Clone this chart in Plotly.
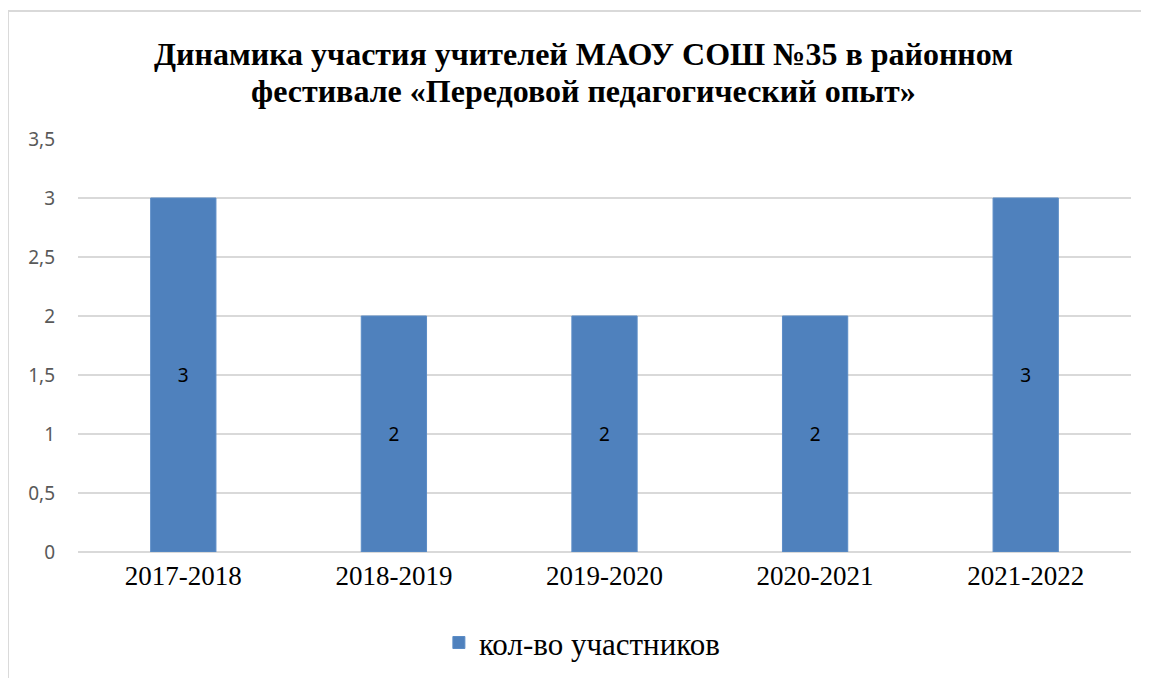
import plotly.graph_objects as go

categories = ["2017-2018", "2018-2019", "2019-2020", "2020-2021", "2021-2022"]
values = [3, 2, 2, 2, 3]
series_name = "кол-во участников"
title_lines = ["Динамика участия учителей МАОУ СОШ №35 в районном",
               "фестивале «Передовой педагогический опыт»"]

fig = go.Figure()
fig.add_trace(go.Bar(
    x=categories, y=values, name=series_name,
    marker=dict(color="#4F81BD", line=dict(color="#5B8CC6", width=1)),
    text=[str(v) for v in values], textposition="inside", insidetextanchor="middle",
    textfont=dict(family="Noto Sans, sans-serif", size=19, color="#000000"),
    showlegend=True,
))

title_font = dict(family="Liberation Serif, serif", size=32, color="#000000", weight="bold")
annotations = [
    dict(text=title_lines[0], xref="paper", yref="paper", x=0.4805, y=1.207,
         xanchor="center", yanchor="middle", showarrow=False, font=title_font),
    dict(text=title_lines[1], xref="paper", yref="paper", x=0.4805, y=1.116,
         xanchor="center", yanchor="middle", showarrow=False, font=title_font),
]

border = dict(color="#D9D9D9", width=2)
fig.update_layout(
    width=1149, height=678,
    paper_bgcolor="white", plot_bgcolor="white",
    separators=", ",
    margin=dict(l=70, r=26, t=131, b=134),
    bargap=0.69,
    annotations=annotations,
    xaxis=dict(tickfont=dict(family="Liberation Serif, serif", size=27, color="#000000"),
               showline=False, ticks="", ticklabelstandoff=5),
    yaxis=dict(range=[0, 3.5], dtick=0.5, tickformat=",.1~f",
               tickfont=dict(family="Noto Sans, sans-serif", size=19, color="#595959"),
               showgrid=True, gridcolor="#D9D9D9", gridwidth=2,
               zeroline=True, zerolinecolor="#D9D9D9", zerolinewidth=2,
               ticks="", ticklabelstandoff=22),
    legend=dict(orientation="h", x=0.479, xanchor="center", y=-0.22, yanchor="middle",
                font=dict(family="Liberation Serif, serif", size=31, color="#000000")),
    shapes=[
        dict(type="line", xref="paper", yref="paper", x0=-0.0665, x1=1.4, y0=1.31, y1=1.31,
             line=border, layer="below"),
        dict(type="line", xref="paper", yref="paper", x0=-0.0665, x1=-0.0665, y0=-0.6, y1=1.31,
             line=border, layer="below"),
    ],
)
fig.write_html("out.html")
